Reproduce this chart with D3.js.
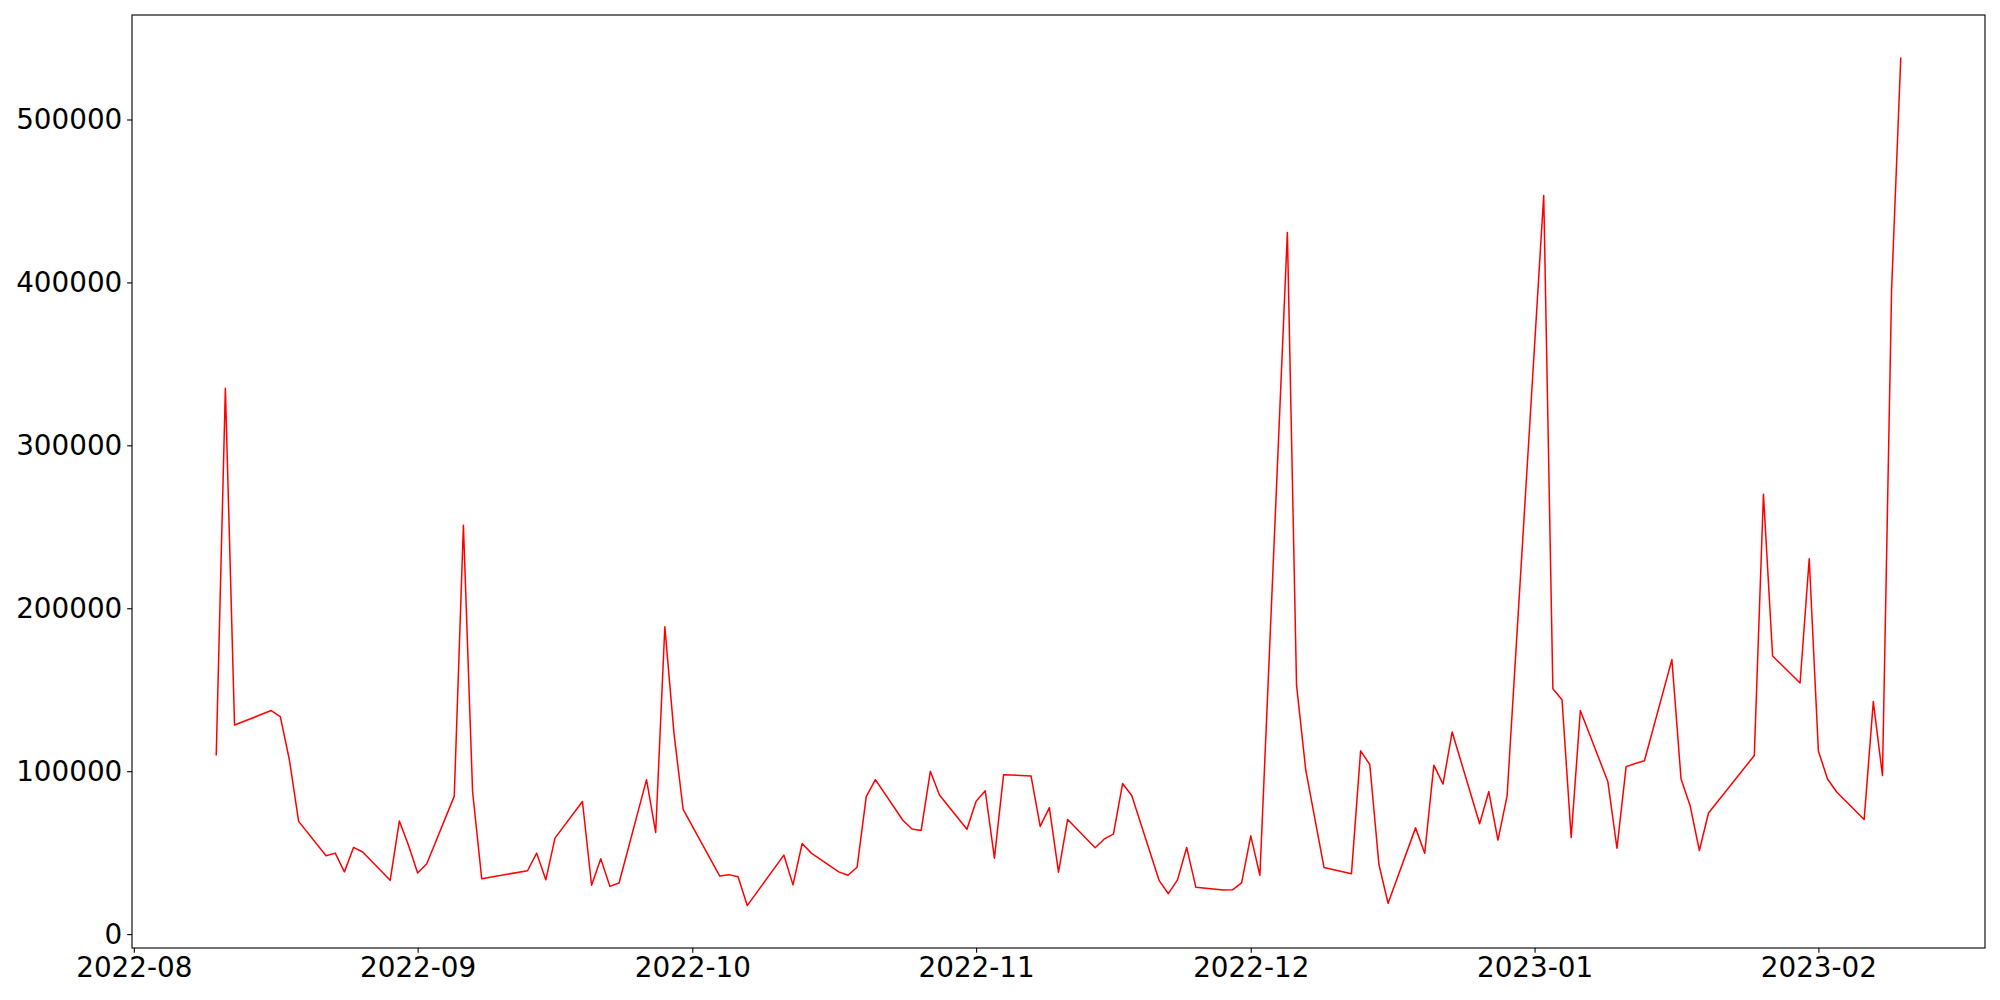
<!DOCTYPE html>
<html>
<head>
<meta charset="utf-8">
<script src="https://cdn.jsdelivr.net/npm/d3@7"></script>
<style>
  body { margin: 0; background: #fff; }
  svg text { font-family: "DejaVu Sans", sans-serif; }
</style>
</head>
<body>
<svg id="chart" width="2000" height="1000"></svg>
<script>
// trading days (KRX calendar) and the traded amount per day
var dates = [
  "2022-08-10", "2022-08-11", "2022-08-12", "2022-08-16", "2022-08-17", "2022-08-18", "2022-08-19",
  "2022-08-22", "2022-08-23", "2022-08-24", "2022-08-25", "2022-08-26",
  "2022-08-29", "2022-08-30", "2022-08-31", "2022-09-01", "2022-09-02",
  "2022-09-05", "2022-09-06", "2022-09-07", "2022-09-08",
  "2022-09-13", "2022-09-14", "2022-09-15", "2022-09-16",
  "2022-09-19", "2022-09-20", "2022-09-21", "2022-09-22", "2022-09-23",
  "2022-09-26", "2022-09-27", "2022-09-28", "2022-09-29", "2022-09-30",
  "2022-10-04", "2022-10-05", "2022-10-06", "2022-10-07",
  "2022-10-11", "2022-10-12", "2022-10-13", "2022-10-14",
  "2022-10-17", "2022-10-18", "2022-10-19", "2022-10-20", "2022-10-21",
  "2022-10-24", "2022-10-25", "2022-10-26", "2022-10-27", "2022-10-28",
  "2022-10-31", "2022-11-01", "2022-11-02", "2022-11-03", "2022-11-04",
  "2022-11-07", "2022-11-08", "2022-11-09", "2022-11-10", "2022-11-11",
  "2022-11-14", "2022-11-15", "2022-11-16", "2022-11-17", "2022-11-18",
  "2022-11-21", "2022-11-22", "2022-11-23", "2022-11-24", "2022-11-25",
  "2022-11-28", "2022-11-29", "2022-11-30", "2022-12-01", "2022-12-02",
  "2022-12-05", "2022-12-06", "2022-12-07", "2022-12-08", "2022-12-09",
  "2022-12-12", "2022-12-13", "2022-12-14", "2022-12-15", "2022-12-16",
  "2022-12-19", "2022-12-20", "2022-12-21", "2022-12-22", "2022-12-23",
  "2022-12-26", "2022-12-27", "2022-12-28", "2022-12-29",
  "2023-01-02", "2023-01-03", "2023-01-04", "2023-01-05", "2023-01-06",
  "2023-01-09", "2023-01-10", "2023-01-11", "2023-01-12", "2023-01-13",
  "2023-01-16", "2023-01-17", "2023-01-18", "2023-01-19", "2023-01-20",
  "2023-01-25", "2023-01-26", "2023-01-27",
  "2023-01-30", "2023-01-31", "2023-02-01", "2023-02-02", "2023-02-03",
  "2023-02-06", "2023-02-07", "2023-02-08", "2023-02-09", "2023-02-10"
];

var values = [
  109600, 335000, 128300, 137200, 133500, 106700, 69200,
  48100, 49700, 38200, 53200, 50400,
  33000, 69400, 54600, 37500, 43200,
  84700, 251000, 87500, 34000,
  38900, 49700, 33300, 58900,
  81400, 30000, 46200, 29300, 31400,
  94800, 62400, 188600, 123200, 76500,
  35600, 36500, 35200, 17500,
  48500, 30200, 55600, 49700,
  38200, 36100, 41000, 84400, 94800,
  69900, 64500, 63600, 99900, 85400,
  64300, 81600, 88000, 46600, 97800,
  97100, 66100, 77600, 38000, 70400,
  53000, 58400, 61400, 92400, 85100,
  32800, 24800, 33300, 53200, 28800,
  27000, 27200, 31400, 60300, 36100,
  430700, 152800, 101000, 70900, 40900,
  37100, 112500, 104100, 42700, 18900,
  65200, 49600, 103700, 92100, 124100,
  67700, 87500, 57700, 84900,
  453400, 150600, 143800, 59300, 137200,
  93700, 52700, 102800, 104700, 106400,
  168500, 95200, 78600, 51300, 74300,
  109600, 270000, 170700,
  154100, 230400, 112400, 95200, 87200,
  70300, 142700, 97300, 396000, 538100
];

var yTicks = [0, 100000, 200000, 300000, 400000, 500000];

var parse = d3.timeParse("%Y-%m-%d");
var series = dates.map(function(d, i) {
  return { date: parse(d), value: values[i] };
});

// plot box (window.top is read-only, so no bare "top" here)
var plotLeft = 132, plotRight = 1985, plotTop = 15, plotBottom = 948;
var fontSize = 27.8;
var tick = 4.86;

// 5% margin on both sides, like the default plot
function padded(ext) {
  var p = (ext[1] - ext[0]) * 0.05;
  return [ext[0] - p, ext[1] + p];
}

var tPad = padded(d3.extent(series, function(d) { return +d.date; }));
var x = d3.scaleTime()
  .domain([new Date(tPad[0]), new Date(tPad[1])])
  .range([plotLeft, plotRight]);

var y = d3.scaleLinear()
  .domain(padded(d3.extent(values)))
  .range([plotBottom, plotTop]);

var svg = d3.select("#chart");

svg.append("rect")
  .attr("width", 2000).attr("height", 1000)
  .attr("fill", "#fff");

// the line itself
var line = d3.line()
  .x(function(d) { return x(d.date); })
  .y(function(d) { return y(d.value); });

svg.append("path")
  .datum(series)
  .attr("fill", "none")
  .attr("stroke", "#ff0000")
  .attr("stroke-width", 1.5)
  .attr("stroke-linejoin", "round")
  .attr("d", line);

// x axis, one tick per month
var xAxis = svg.append("g")
  .attr("transform", "translate(0," + plotBottom + ")")
  .call(d3.axisBottom(x)
    .ticks(d3.timeMonth.every(1))
    .tickFormat(d3.timeFormat("%Y-%m"))
    .tickSizeInner(tick).tickSizeOuter(0).tickPadding(tick));

// y axis
var yAxis = svg.append("g")
  .attr("transform", "translate(" + plotLeft + ",0)")
  .call(d3.axisLeft(y)
    .tickValues(yTicks)
    .tickFormat(d3.format("d"))
    .tickSizeInner(tick).tickSizeOuter(0).tickPadding(tick));

[xAxis, yAxis].forEach(function(g) {
  g.select(".domain").remove();
  g.selectAll(".tick line").attr("stroke", "#000").attr("stroke-width", 1.11);
  g.selectAll(".tick text")
    .attr("fill", "#000")
    .style("font-size", fontSize + "px")
    .style("font-family", "'DejaVu Sans', sans-serif");
});

// frame round the plot
svg.append("rect")
  .attr("x", plotLeft).attr("y", plotTop)
  .attr("width", plotRight - plotLeft).attr("height", plotBottom - plotTop)
  .attr("fill", "none")
  .attr("stroke", "#000")
  .attr("stroke-width", 1.11);
</script>
</body>
</html>
